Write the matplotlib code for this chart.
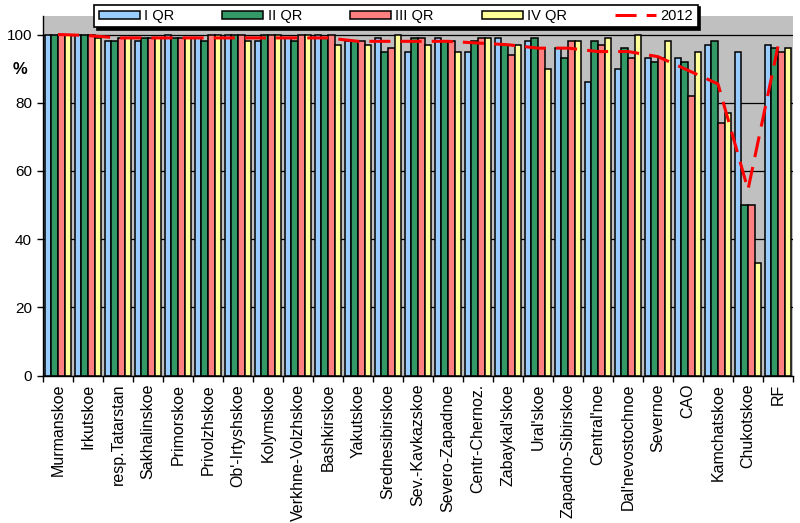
import matplotlib
matplotlib.use("Agg")
import matplotlib.pyplot as plt
import numpy as np
from matplotlib.ticker import FixedLocator

plt.rcParams['font.family'] = ['Liberation Sans', 'DejaVu Sans']

categories = ["Murmanskoe", "Irkutskoe", "resp.Tatarstan", "Sakhalinskoe", "Primorskoe",
              "Privolzhskoe", "Ob'-Irtyshskoe", "Kolymskoe", "Verkhne-Volzhskoe", "Bashkirskoe",
              "Yakutskoe", "Srednesibirskoe", "Sev.-Kavkazskoe", "Severo-Zapadnoe", "Centr-Chernoz.",
              "Zabaykal'skoe", "Ural'skoe", "Zapadno-Sibirskoe", "Central'noe", "Dal'nevostochnoe",
              "Severnoe", "CAO", "Kamchatskoe", "Chukotskoe", "RF"]

q1 = [100, 100, 98, 98, 100, 99, 100, 98, 99, 100, 98, 99, 95, 99, 95, 99, 98, 96, 86, 90, 93, 93, 97, 95, 97]
q2 = [100, 100, 98, 99, 99, 98, 100, 100, 98, 99, 98, 95, 99, 98, 98, 97, 99, 93, 98, 96, 92, 92, 98, 50, 96]
q3 = [100, 100, 99, 99, 99, 100, 100, 100, 100, 100, 98, 96, 99, 98, 99, 94, 96, 98, 97, 93, 93, 82, 74, 50, 95]
q4 = [100, 99, 99, 99, 99, 100, 98, 100, 100, 97, 97, 100, 97, 95, 99, 97, 90, 98, 99, 100, 98, 95, 77, 33, 96]
y2012 = [100, 99.7, 99, 99, 99, 99, 99, 99, 99, 99, 98, 98, 98, 98, 97.5, 97, 96, 96, 95, 95, 93.5, 89.5, 85.5, 54.5, 96.5]

series_labels = ["I QR", "II QR", "III QR", "IV QR"]
line_label = "2012"
yticks = [0, 20, 40, 60, 80, 100]

colors = ["#99CCFF", "#339966", "#FF8080", "#FFFF99"]

fig = plt.figure(figsize=(8, 5.23), dpi=100)
ax = fig.add_axes([43/800, 147.5/523, 750/800, (375.5-16)/523])
ax.set_facecolor("#C0C0C0")

x = np.arange(len(categories))
w = 0.217
handles = []
for j, (vals, c, lab) in enumerate(zip([q1, q2, q3, q4], colors, series_labels)):
    b = ax.bar(x + (j - 1.5) * w, vals, width=w, color=c, edgecolor="black",
               linewidth=1.1, label=lab, zorder=2)
    handles.append(b)

ln, = ax.plot(x, y2012, color="#FF0000", linewidth=2.2, dashes=(6.9, 3.3),
              label=line_label, zorder=3)
handles.append(ln)

ax.set_xlim(-0.5, len(categories) - 0.5)
ax.set_ylim(0, (375.5 - 16) / 3.41)
ax.set_yticks(yticks)
ax.yaxis.grid(True, color="black", linewidth=0.9, zorder=0)
ax.set_axisbelow(True)

ax.set_xticks(x)
ax.set_xticklabels(categories, rotation=90, fontsize=11.5, va="top")
ax.xaxis.set_minor_locator(FixedLocator(np.arange(-0.5, len(categories), 1.0)))
ax.tick_params(axis="x", which="major", length=0, pad=6)
ax.tick_params(axis="x", which="minor", length=4, width=1, color="black", direction="out")
ax.tick_params(axis="y", length=4, width=1, direction="out", labelsize=11, pad=4)

for s in ["top", "right"]:
    ax.spines[s].set_visible(False)
ax.spines["left"].set_linewidth(1.0)
ax.spines["bottom"].set_linewidth(1.0)

fig.text(20/800, 1 - 70/523, "%", ha="center", va="center", fontsize=12, fontweight="bold")

leg = fig.legend(handles=handles, labels=series_labels + [line_label], loc="center",
                 bbox_to_anchor=(396/800, 1 - 16/523), bbox_transform=fig.transFigure,
                 ncol=5, fontsize=10.5, frameon=True, fancybox=False,
                 handlelength=2.8, handleheight=0.5, handletextpad=0.3,
                 columnspacing=3.3, borderpad=0.3, borderaxespad=0,
                 shadow={"color": "black", "alpha": 1.0})
leg.get_frame().set_edgecolor("black")
leg.get_frame().set_linewidth(1.2)
leg.get_frame().set_alpha(1.0)

fig.savefig("out.png", dpi=100)
